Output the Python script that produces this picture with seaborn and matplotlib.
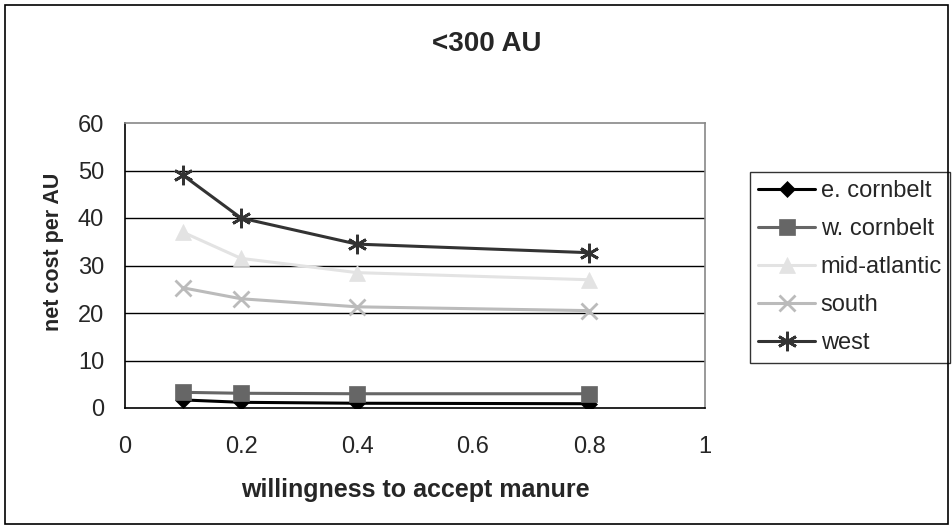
import matplotlib
matplotlib.use("Agg")
import matplotlib.pyplot as plt
import seaborn as sns
import pandas as pd
from matplotlib.patches import Rectangle

x_vals = [0.1, 0.2, 0.4, 0.8]
e_cornbelt = [1.7, 1.2, 1.0, 0.9]
w_cornbelt = [3.3, 3.1, 3.0, 3.0]
mid_atlantic = [37.0, 31.5, 28.5, 27.0]
south = [25.3, 23.0, 21.3, 20.5]
west = [49.0, 40.0, 34.5, 32.7]
series_names = ["e. cornbelt", "w. cornbelt", "mid-atlantic", "south", "west"]

sns.set_theme(style="white")
plt.rcParams['font.family'] = ['Liberation Sans', 'DejaVu Sans']

rows = []
for name, vals in zip(series_names, [e_cornbelt, w_cornbelt, mid_atlantic, south, west]):
    for xv, yv in zip(x_vals, vals):
        rows.append({"x": xv, "y": yv, "series": name})
df = pd.DataFrame(rows)

colors = {"e. cornbelt": "#000000", "w. cornbelt": "#666666", "mid-atlantic": "#e3e3e3",
          "south": "#bbbbbb", "west": "#333333"}
markers = {"e. cornbelt": "D", "w. cornbelt": "s", "mid-atlantic": "^", "south": "x", "west": (6, 2, 0)}
msizes = {"e. cornbelt": 8, "w. cornbelt": 11, "mid-atlantic": 12, "south": 11, "west": 14}

fig = plt.figure(figsize=(9.53, 5.29), dpi=100)
ax = fig.add_axes([125/953, 1-408/529, (705-125)/953, (408-123)/529])

for yv in [10, 20, 30, 40, 50]:
    ax.axhline(yv, color="#000000", lw=1.0, zorder=1)

for name in series_names:
    sub = df[df.series == name]
    sns.lineplot(data=sub, x="x", y="y", ax=ax, color=colors[name], lw=2.2,
                 marker=markers[name], markersize=msizes[name],
                 markeredgewidth=2.0 if name in ("south", "west") else 0.5,
                 markeredgecolor=colors[name], markerfacecolor=colors[name], label=name, zorder=3)

ax.set_xlim(0, 1)
ax.set_ylim(0, 60)
ax.set_xticks([0, 0.2, 0.4, 0.6, 0.8, 1])
ax.set_xticklabels(["0", "0.2", "0.4", "0.6", "0.8", "1"])
ax.set_yticks([0, 10, 20, 30, 40, 50, 60])
ax.tick_params(axis="both", direction="out", length=7, width=1, color="#000000", labelsize=17)
ax.tick_params(axis="y", pad=8)
ax.tick_params(axis="x", pad=13)
ax.grid(False)
for side in ["top", "right"]:
    ax.spines[side].set_color("#888888")
    ax.spines[side].set_linewidth(1.2)
for side in ["left", "bottom"]:
    ax.spines[side].set_color("#000000")
    ax.spines[side].set_linewidth(1.2)

ax.set_xlabel("willingness to accept manure", fontsize=18, fontweight="bold")
ax.xaxis.set_label_coords(0.5, -(490 - 408) / 285)
ax.xaxis.label.set_va("center")
ax.set_ylabel("net cost per AU", fontsize=15.5, fontweight="bold")
ax.yaxis.set_label_coords((53 - 125) / 580, (408 - 252) / 285)
ax.yaxis.label.set_va("center")
fig.text(487/953, 1-44/529, "<300 AU", ha="center", va="center", fontsize=20, fontweight="bold")

leg = ax.legend(loc="upper left", bbox_to_anchor=(750/953, 1-172/529), bbox_transform=fig.transFigure,
                frameon=True, fancybox=False, fontsize=17, handlelength=2.4, handletextpad=0.25,
                labelspacing=0.68, borderpad=0.35, borderaxespad=0)
leg.get_frame().set_edgecolor("#000000")
leg.get_frame().set_linewidth(1.0)

fig.patches.append(Rectangle((5/953, 5/529), 943/953, 519/529, transform=fig.transFigure,
                             fill=False, edgecolor="#000000", lw=1.2))

fig.savefig("out.png", dpi=100)
